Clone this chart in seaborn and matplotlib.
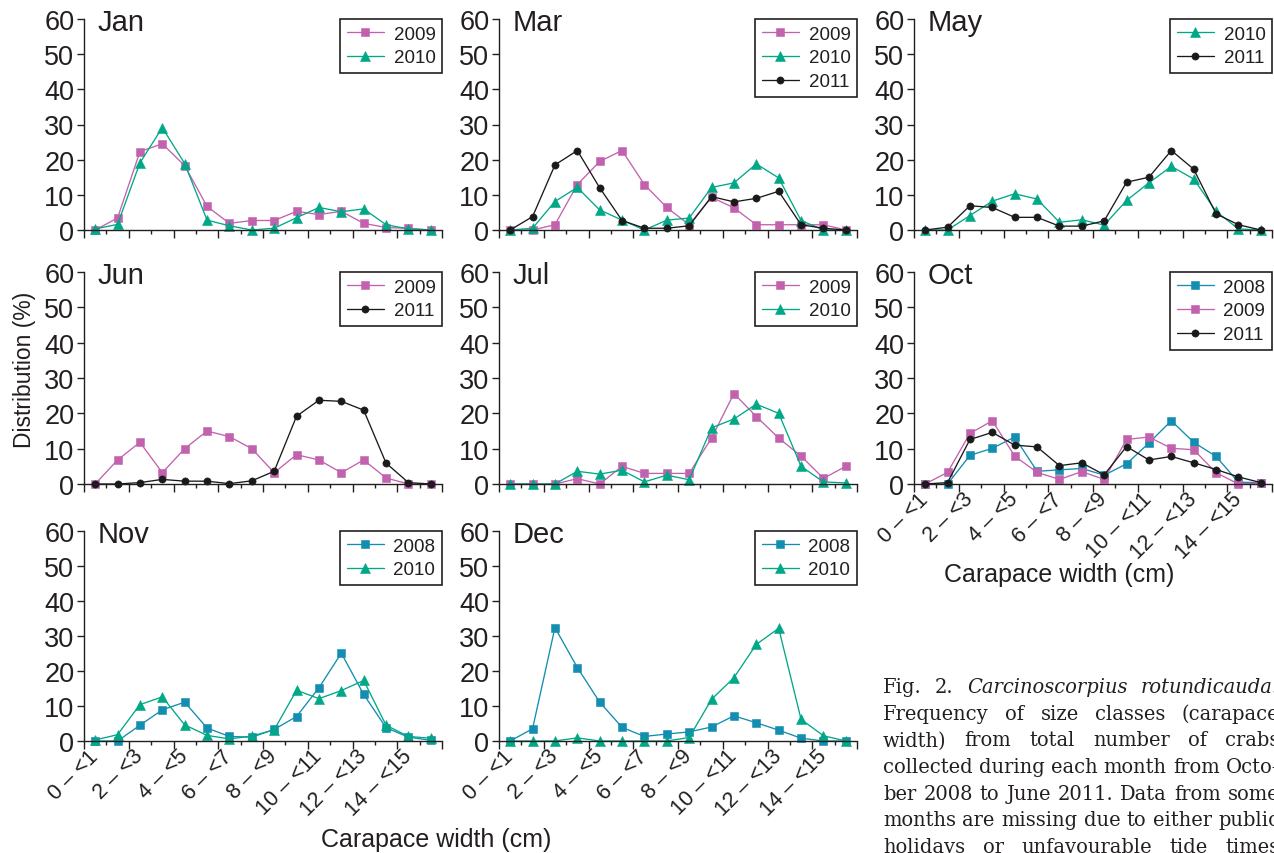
#!/usr/bin/env python3
#===============================================================================
# plot - size class distribution of Carcinoscorpius rotundicauda by month
#===============================================================================

# Imports ======================================================================

import numpy as np
import matplotlib
matplotlib.use('Agg')
import matplotlib.pyplot as plt
import seaborn as sns


# Data =========================================================================

size_classes = ['0 – <1', '1 – <2', '2 – <3', '3 – <4', '4 – <5', '5 – <6',
                '6 – <7', '7 – <8', '8 – <9', '9 – <10', '10 – <11',
                '11 – <12', '12 – <13', '13 – <14', '14 – <15', '15 – <16']

jan_2009 = [0.0, 3.4, 22.3, 24.5, 18.3, 6.7, 1.9, 2.7, 2.7, 5.3, 4.4, 5.3, 1.9, 0.7, 0.5, 0.0]
jan_2010 = [0.3, 1.6, 19.1, 29.1, 18.9, 2.8, 1.2, 0.0, 0.5, 3.5, 6.4, 5.2, 6.0, 1.5, 0.3, 0.0]

mar_2009 = [0.0, 0.0, 1.5, 12.9, 19.5, 22.6, 12.9, 6.4, 1.5, 9.3, 6.3, 1.5, 1.5, 1.5, 1.5, 0.0]
mar_2010 = [0.0, 0.5, 8.1, 12.1, 5.7, 2.8, 0.0, 2.8, 3.4, 12.1, 13.4, 18.8, 14.8, 2.7, 0.0, 0.0]
mar_2011 = [0.0, 3.8, 18.5, 22.6, 12.0, 2.7, 0.5, 0.5, 1.2, 9.5, 8.0, 9.0, 11.0, 1.5, 0.5, 0.0]

may_2010 = [0.0, 0.0, 4.1, 8.2, 10.3, 8.8, 2.2, 2.9, 1.4, 8.4, 13.4, 18.1, 14.5, 5.3, 0.3, 0.0]
may_2011 = [0.0, 0.8, 6.9, 6.4, 3.6, 3.6, 1.1, 1.1, 2.6, 13.6, 15.0, 22.6, 17.3, 4.6, 1.5, 0.0]

jun_2009 = [0.0, 6.8, 11.8, 3.2, 10.0, 15.0, 13.4, 10.0, 3.2, 8.3, 6.8, 3.2, 6.8, 1.7, 0.0, 0.0]
jun_2011 = [0.0, 0.0, 0.4, 1.3, 0.8, 0.8, 0.1, 0.9, 3.6, 19.2, 23.7, 23.4, 20.9, 5.9, 0.4, 0.0]

jul_2009 = [0.0, 0.0, 0.0, 1.5, 0.0, 5.0, 3.0, 3.0, 3.0, 13.0, 25.6, 19.1, 13.0, 7.9, 1.6, 5.0]
jul_2010 = [0.0, 0.0, 0.0, 3.6, 2.8, 3.9, 0.6, 2.5, 1.2, 15.9, 18.4, 22.6, 20.0, 5.0, 0.6, 0.3]

oct_2008 = [0.0, 0.0, 8.1, 10.1, 13.3, 3.6, 4.0, 4.4, 2.5, 5.7, 11.6, 17.9, 11.8, 7.8, 0.5, 0.4]
oct_2009 = [0.0, 3.3, 14.3, 17.9, 7.9, 3.3, 1.3, 3.5, 1.3, 12.6, 13.3, 10.1, 9.7, 3.2, 0.0, 0.3]
oct_2011 = [0.0, 0.4, 12.6, 14.6, 11.0, 10.5, 5.2, 6.0, 2.6, 10.6, 6.8, 7.8, 6.0, 4.1, 2.0, 0.4]

nov_2008 = [0.0, 0.0, 4.5, 8.9, 11.1, 3.7, 1.3, 1.1, 3.3, 7.0, 15.2, 25.1, 13.3, 3.8, 1.1, 0.2]
nov_2010 = [0.3, 1.8, 10.4, 12.6, 4.6, 1.6, 0.6, 1.4, 3.2, 14.5, 12.1, 14.4, 17.3, 4.5, 1.3, 0.8]

dec_2008 = [0.0, 3.5, 32.4, 21.0, 11.1, 3.9, 1.3, 2.0, 2.6, 4.0, 7.2, 5.2, 3.1, 0.8, 0.0, 0.0]
dec_2010 = [0.0, 0.0, 0.0, 0.9, 0.0, 0.0, 0.0, 0.0, 1.0, 11.9, 18.1, 27.6, 32.2, 6.2, 1.5, 0.0]

caption_lines = [
    'Fig. 2. Carcinoscorpius rotundicauda.',
    'Frequency of size classes (carapace',
    'width) from total number of crabs',
    'collected during each month from Octo-',
    'ber 2008 to June 2011. Data from some',
    'months are missing due to either public',
    'holidays or unfavourable tide times',
]
italic_words = ('Carcinoscorpius', 'rotundicauda.')

# Styles =======================================================================

INK = '#231f20'
year_colors = {'2008': '#138db0', '2009': '#c262ae', '2010': '#00a887', '2011': '#1a1a1a'}
year_markers = {'2008': 's', '2009': 's', '2010': '^', '2011': 'o'}
marker_sizes = {'2008': 5.6, '2009': 5.8, '2010': 6.6, '2011': 5.2}

FIG_W, FIG_H = 1274, 854
COL_LEFT = [84, 499, 914]
ROW_TOP = [20, 273, 532]
ROW_BOTTOM = [231, 485, 742]
AX_W = 358


# Functions ====================================================================

def draw_panel(fig, row, col, month, series, xlabels):
    left = COL_LEFT[col] / FIG_W
    bottom = 1 - ROW_BOTTOM[row] / FIG_H
    height = (ROW_BOTTOM[row] - ROW_TOP[row]) / FIG_H
    ax = fig.add_axes([left, bottom, AX_W / FIG_W, height])
    x = np.arange(len(size_classes))
    for year, values in series:
        c = year_colors[year]
        sns.lineplot(x=x, y=values, ax=ax, color=c, marker=year_markers[year],
                     markersize=marker_sizes[year], markeredgecolor=c,
                     markeredgewidth=0.4, linewidth=0.95, label=year,
                     clip_on=False)
    ax.set(xlim=(-0.5, len(size_classes) - 0.5), ylim=(0, 60), xlabel='', ylabel='')
    sns.despine(ax=ax)
    for side in ('left', 'bottom'):
        ax.spines[side].set_linewidth(1.0)
        ax.spines[side].set_color(INK)
    ax.set_yticks(range(0, 61, 10))
    ax.tick_params(axis='y', direction='out', length=5, width=1.0, color=INK,
                   labelsize=19.5, labelcolor=INK, pad=2)
    ax.set_xticks(np.arange(-0.5, len(size_classes), 2))
    ax.set_xticks(np.arange(0.5, len(size_classes), 2), minor=True)
    ax.tick_params(axis='x', which='major', direction='out', length=5.5, width=1.0,
                   color=INK, labelbottom=False)
    ax.tick_params(axis='x', which='minor', direction='out', length=3, width=1.0,
                   color=INK, labelbottom=False)
    if xlabels:
        sec = ax.secondary_xaxis('bottom')
        sec.spines['bottom'].set_visible(False)
        sec.set_xticks(x[::2], size_classes[::2])
        sec.tick_params(length=0, pad=8.5, labelsize=15.5, labelcolor=INK)
        plt.setp(sec.get_xticklabels(), rotation=45, ha='right', va='center',
                 rotation_mode='anchor')
    ax.text(0.037, 0.985, month, transform=ax.transAxes, fontsize=21,
            color=INK, ha='left', va='center')
    leg = ax.legend(loc='upper right', bbox_to_anchor=(1, 1), borderaxespad=0,
                    fancybox=False, edgecolor=INK, fontsize=13.5, numpoints=1,
                    handlelength=2.0, handletextpad=0.5, labelspacing=0.35,
                    borderpad=0.35, framealpha=1)
    leg.get_frame().set_linewidth(1.2)
    for t in leg.get_texts():
        t.set_color(INK)
    return ax


def add_caption(fig):
    r = fig.canvas.get_renderer()
    # size the serif font so the unspaced line fills the column like the print
    probe = fig.text(0, 0, caption_lines[3][:-1], family='DejaVu Serif', fontsize=15)
    size = 15 * 391 / probe.get_window_extent(r).width
    probe.set_fontsize(size)
    probe.set_text(caption_lines[3])
    col_w = probe.get_window_extent(r).width
    probe.remove()
    x0 = 883
    for i, line in enumerate(caption_lines):
        y = 1 - (693 + i * 26.7) / FIG_H
        words = line.split()
        texts = [fig.text(0, y, w, family='DejaVu Serif', fontsize=size, color=INK,
                          style='italic' if w in italic_words else 'normal',
                          va='baseline') for w in words]
        widths = [t.get_window_extent(r).width for t in texts]
        gap = (col_w - sum(widths)) / (len(words) - 1)
        pos = x0
        for t, w in zip(texts, widths):
            t.set_x(pos / FIG_W)
            pos += w + gap


def main():
    sns.set_style('ticks')
    plt.rcParams['font.family'] = ['Liberation Sans', 'DejaVu Sans']
    fig = plt.figure(figsize=(FIG_W / 100, FIG_H / 100), dpi=100)

    draw_panel(fig, 0, 0, 'Jan', [('2009', jan_2009), ('2010', jan_2010)], False)
    draw_panel(fig, 0, 1, 'Mar', [('2009', mar_2009), ('2010', mar_2010), ('2011', mar_2011)], False)
    draw_panel(fig, 0, 2, 'May', [('2010', may_2010), ('2011', may_2011)], False)
    draw_panel(fig, 1, 0, 'Jun', [('2009', jun_2009), ('2011', jun_2011)], False)
    draw_panel(fig, 1, 1, 'Jul', [('2009', jul_2009), ('2010', jul_2010)], False)
    draw_panel(fig, 1, 2, 'Oct', [('2008', oct_2008), ('2009', oct_2009), ('2011', oct_2011)], True)
    draw_panel(fig, 2, 0, 'Nov', [('2008', nov_2008), ('2010', nov_2010)], True)
    draw_panel(fig, 2, 1, 'Dec', [('2008', dec_2008), ('2010', dec_2010)], True)

    fig.text(1059 / FIG_W, 1 - 575 / FIG_H, 'Carapace width (cm)', fontsize=18,
             color=INK, ha='center', va='center')
    fig.text(436 / FIG_W, 1 - 840 / FIG_H, 'Carapace width (cm)', fontsize=18,
             color=INK, ha='center', va='center')
    fig.text(25 / FIG_W, 1 - 370 / FIG_H, 'Distribution (%)', fontsize=16.5,
             color=INK, ha='center', va='center', rotation=90)

    add_caption(fig)
    fig.savefig('out.png', dpi=100)


# Execute ======================================================================

if __name__ == '__main__':
    main()
